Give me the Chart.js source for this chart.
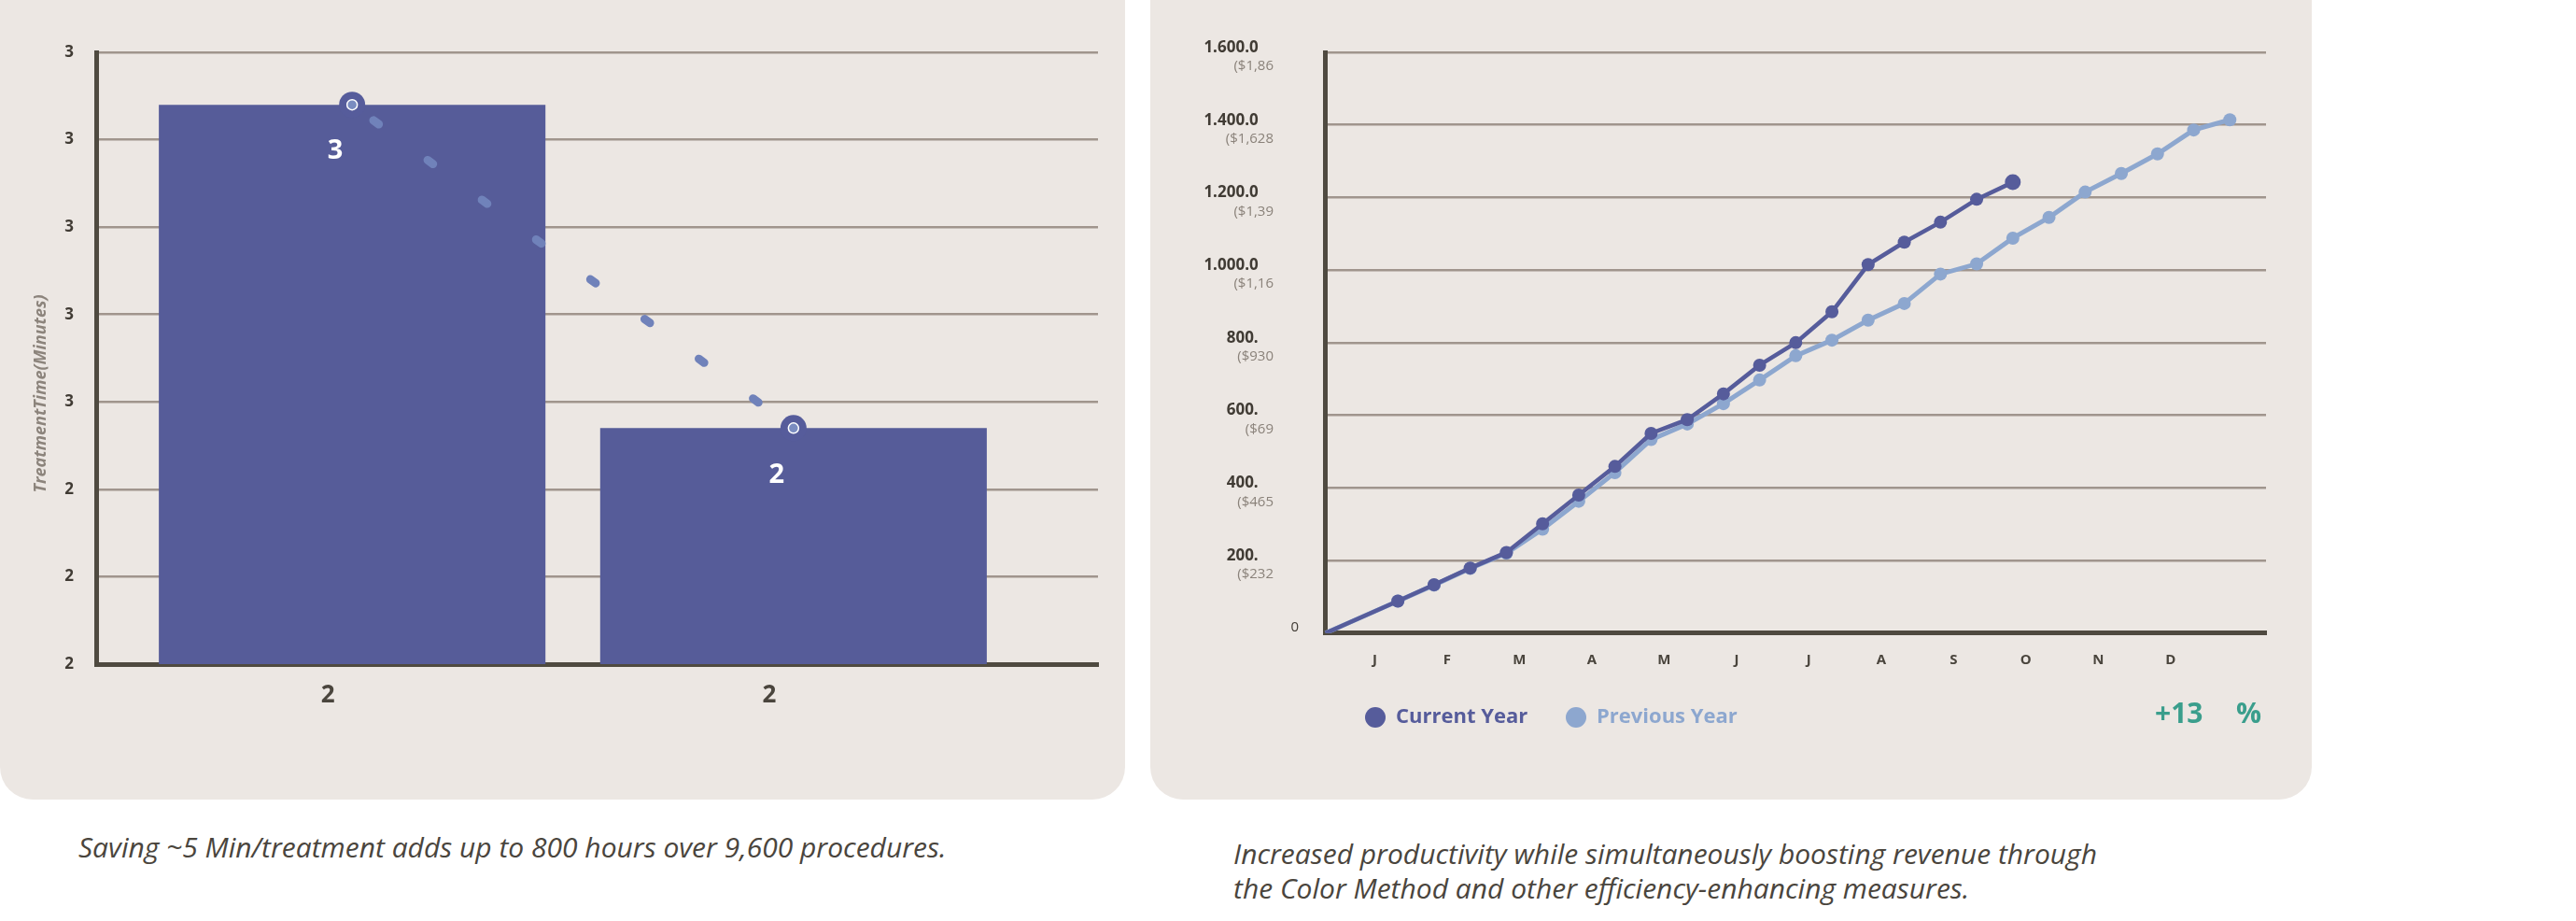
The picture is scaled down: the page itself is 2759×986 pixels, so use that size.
<!DOCTYPE html>
<html>
<head>
<meta charset="utf-8">
<script src="https://cdn.jsdelivr.net/npm/chart.js@4.4.1/dist/chart.umd.min.js"></script>
<style>
  html, body { margin: 0; padding: 0; background: #ffffff; }
  body { width: 2759px; height: 986px; position: relative; overflow: hidden; }
  .panel { position: absolute; top: -40px; height: 896px; background: #ece7e3; border-radius: 35px; }
  #p1 { left: 0; width: 1205px; }
  #p2 { left: 1232px; width: 1244px; }
  canvas { position: absolute; top: 0; }
  #c1 { left: 0; }
  #c2 { left: 1232px; }
  .caption { position: absolute; font-family: "Open Sans", sans-serif; font-style: italic; font-size: 30px; color: #4a453d; line-height: 37px; white-space: nowrap; }
  #cap1 { left: 84px; top: 888px; }
  #cap2 { left: 1321px; top: 895px; }
</style>
</head>
<body>
<div class="panel" id="p1"></div>
<div class="panel" id="p2"></div>
<canvas id="c1" width="1205" height="800"></canvas>
<canvas id="c2" width="1244" height="856"></canvas>
<div class="caption" id="cap1">Saving ~5 Min/treatment adds up to 800 hours over 9,600 procedures.</div>
<div class="caption" id="cap2">Increased productivity while simultaneously boosting revenue through<br>the Color Method and other efficiency-enhancing measures.</div>
<script>
// Linke grafik: vreme tretmana
const barLabels = ['2', '2'];
const barValues = [33.4, 29.7];
const barValueLabels = ['3', '2'];
const leftTickLabels = ['2', '2', '2', '3', '3', '3', '3', '3']; // od 27 do 34
const leftAxisTitle = 'TreatmentTime(Minutes)';

// Desna grafika: kumulativno po polumesecima
const monthLetters = ['J', 'F', 'M', 'A', 'M', 'J', 'J', 'A', 'S', 'O', 'N', 'D'];
const currentYear = [0, null, 88, 133, 179, 222, 301, 380, 459, 550, 588, 659, 738, 800, 885, 1015, 1077, 1132, 1195, 1242];
const previousYear = [0, null, 88, 132, 178, 220, 286, 363, 442, 533, 576, 632, 697, 764, 807, 862, 908, 989, 1017, 1088, 1145, 1215, 1266, 1320, 1386, 1414];
const rightMainLabels = ['0', '200.', '400.', '600.', '800.', '1.000.0', '1.200.0', '1.400.0', '1.600.0'];
const rightSubLabels = ['', '($232', '($465', '($69', '($930', '($1,16', '($1,39', '($1,628', '($1,86'];
const legendNames = ['Current Year', 'Previous Year'];
const growthText = ['+13', '%'];

const DARK = '#565c9b';
const LIGHT = '#8da7cf';
const GRID = '#a0958d';
const AXIS = '#4f4a40';
const TEXT = '#403b34';
const FONT = '"Open Sans", sans-serif';

// pomocni plugin za tekst na levoj grafici
const leftExtras = {
    id: 'leftExtras',
    afterDatasetsDraw(chart) {
        const ctx = chart.ctx;
        const area = chart.chartArea;
        ctx.save();
        ctx.translate(44, (area.top + area.bottom) / 2 + 38);
        ctx.rotate(-Math.PI / 2);
        ctx.font = 'italic bold 18px ' + FONT;
        ctx.fillStyle = '#8c847c';
        ctx.textAlign = 'center';
        ctx.textBaseline = 'middle';
        ctx.fillText(leftAxisTitle, 0, 0);
        ctx.restore();

        const meta = chart.getDatasetMeta(2);
        ctx.save();
        ctx.font = 'bold 29px ' + FONT;
        ctx.fillStyle = '#ffffff';
        ctx.textAlign = 'center';
        ctx.textBaseline = 'middle';
        meta.data.forEach((bar, i) => {
            ctx.fillText(barValueLabels[i], bar.x - 18, bar.y + 50);
        });
        ctx.restore();
    }
};

const ctx1 = document.getElementById('c1').getContext('2d');
const chart1 = new Chart(ctx1, {
    data: {
        datasets: [
            {
                type: 'line',
                data: barValues.map((v, i) => ({ x: i, y: v })),
                borderColor: '#7082ba',
                borderWidth: 9,
                borderDash: [7, 65],
                borderDashOffset: 43.7,
                borderCapStyle: 'round',
                pointRadius: 5.5,
                pointBackgroundColor: '#7a8cc0',
                pointBorderColor: '#ffffff',
                pointBorderWidth: 1.5,
                order: 0
            },
            {
                type: 'line',
                data: barValues.map((v, i) => ({ x: i, y: v })),
                showLine: false,
                pointRadius: 14,
                pointBackgroundColor: DARK,
                pointBorderWidth: 0,
                order: 1
            },
            {
                type: 'bar',
                data: barValues.map((v, i) => ({ x: i, y: v })),
                backgroundColor: '#565c99',
                barPercentage: 0.876,
                categoryPercentage: 1,
                order: 2
            }
        ]
    },
    options: {
        responsive: false,
        animation: false,
        layout: { padding: { top: 56, right: 29, bottom: 29, left: 0 } },
        plugins: { legend: { display: false }, tooltip: { enabled: false } },
        scales: {
            x: {
                type: 'linear',
                offset: false,
                min: -0.58,
                max: 1.69,
                afterBuildTicks: (scale) => { scale.ticks = barLabels.map((l, i) => ({ value: i })); },
                afterFit: (scale) => { scale.height = 60; },
                grid: { display: false, offset: false },
                border: { display: true, color: AXIS, width: 5 },
                ticks: {
                    callback: (v) => barLabels[v],
                    labelOffset: -26,
                    padding: 10,
                    color: '#4a453d',
                    font: { family: FONT, size: 26, weight: 'bold' }
                }
            },
            y: {
                min: 27,
                max: 34,
                afterFit: (scale) => { scale.width = 103; scale.paddingTop = 0; scale.paddingBottom = 0; },
                grid: { color: GRID, lineWidth: 2.5, drawTicks: false },
                border: { display: true, color: AXIS, width: 5 },
                ticks: {
                    stepSize: 1,
                    callback: (v, i) => leftTickLabels[i],
                    padding: 24,
                    color: TEXT,
                    font: { family: FONT, size: 17, weight: 'bold' }
                }
            }
        }
    },
    plugins: [leftExtras]
});

// plugin za drugi red oznaka, nulu, legendu i procenat
const rightExtras = {
    id: 'rightExtras',
    afterDraw(chart) {
        const ctx = chart.ctx;
        const yScale = chart.scales.y;
        ctx.save();
        ctx.textBaseline = 'middle';
        yScale.ticks.forEach((t, i) => {
            const py = yScale.getPixelForValue(t.value);
            ctx.textAlign = 'right';
            if (i === 0) {
                ctx.font = '15px ' + FONT;
                ctx.fillStyle = TEXT;
                ctx.fillText(rightMainLabels[0], 159, py - 6);
            } else {
                ctx.font = '15px ' + FONT;
                ctx.fillStyle = '#8a827a';
                ctx.fillText(rightSubLabels[i], 132, py + 15);
            }
        });

        // legenda
        const colors = [DARK, LIGHT];
        const dotX = [241, 456];
        legendNames.forEach((name, i) => {
            ctx.beginPath();
            ctx.fillStyle = colors[i];
            ctx.arc(dotX[i], 768, 11, 0, Math.PI * 2);
            ctx.fill();
            ctx.font = 'bold 22px ' + FONT;
            ctx.textAlign = 'left';
            ctx.fillText(name, dotX[i] + 22, 768);
        });

        ctx.font = 'bold 30px ' + FONT;
        ctx.fillStyle = '#3a9e8c';
        ctx.textAlign = 'left';
        ctx.fillText(growthText[0], 1076, 765);
        ctx.fillText(growthText[1], 1163, 765);
        ctx.restore();
    }
};

const periodLabels = Array.from({ length: 27 }, (_, i) => (i % 2 === 1 && i < 24 ? monthLetters[(i - 1) / 2] : ''));

const ctx2 = document.getElementById('c2').getContext('2d');
const chart2 = new Chart(ctx2, {
    type: 'line',
    data: {
        labels: periodLabels,
        datasets: [
            {
                label: legendNames[0],
                data: currentYear,
                borderColor: DARK,
                backgroundColor: DARK,
                borderWidth: 4.5,
                spanGaps: true,
                pointRadius: (c) => (c.dataIndex === 0 ? 0 : (c.dataIndex === currentYear.length - 1 ? 8.5 : 7)),
                pointBorderWidth: 0,
                pointBackgroundColor: DARK
            },
            {
                label: legendNames[1],
                data: previousYear,
                borderColor: LIGHT,
                backgroundColor: LIGHT,
                borderWidth: 5,
                spanGaps: true,
                pointRadius: (c) => (c.dataIndex === 0 ? 0 : 7),
                pointBorderWidth: 0,
                pointBackgroundColor: LIGHT
            }
        ]
    },
    options: {
        responsive: false,
        animation: false,
        layout: { padding: { top: 56, right: 49, bottom: 118.3, left: 0 } },
        plugins: { legend: { display: false }, tooltip: { enabled: false } },
        scales: {
            x: {
                type: 'category',
                offset: false,
                afterFit: (scale) => { scale.height = 60; },
                grid: { display: false },
                border: { display: true, color: AXIS, width: 5 },
                ticks: {
                    autoSkip: false,
                    maxRotation: 0,
                    labelOffset: 14,
                    padding: 12,
                    color: '#4a453d',
                    font: { family: FONT, size: 15, weight: 'bold' }
                }
            },
            y: {
                min: 0,
                max: 1600,
                afterFit: (scale) => { scale.width = 187.7; scale.paddingTop = 0; scale.paddingBottom = 0; },
                grid: { color: GRID, lineWidth: 2.5, drawTicks: false },
                border: { display: true, color: AXIS, width: 5 },
                ticks: {
                    stepSize: 200,
                    callback: (v, i) => (i === 0 ? '' : rightMainLabels[i]),
                    padding: 72,
                    labelOffset: -5,
                    color: TEXT,
                    font: { family: FONT, size: 17, weight: 'bold' }
                }
            }
        }
    },
    plugins: [rightExtras]
});
</script>
</body>
</html>
